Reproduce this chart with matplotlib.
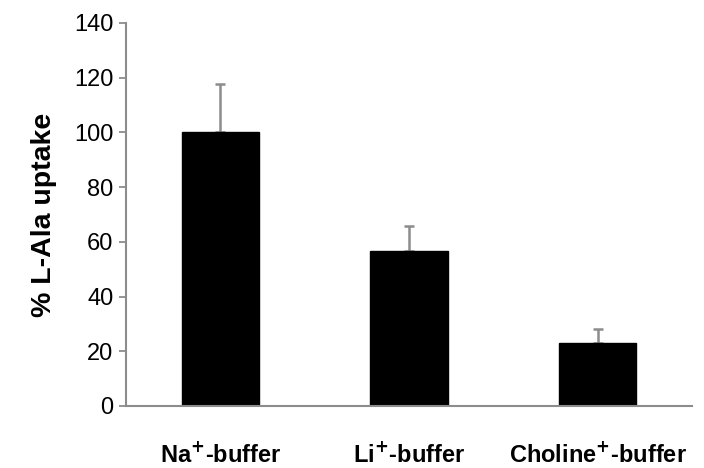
import matplotlib
matplotlib.use('Agg')
import matplotlib.pyplot as plt

plt.rcParams['font.family'] = ['Liberation Sans', 'DejaVu Sans']

categories = ['Na$^{\\mathbf{+}}$-buffer', 'Li$^{\\mathbf{+}}$-buffer', 'Choline$^{\\mathbf{+}}$-buffer']
uptake = [100, 56.5, 23]
err_up = [17.5, 9.3, 5.2]
yticks = [0, 20, 40, 60, 80, 100, 120, 140]

fig = plt.figure(figsize=(7.04, 4.68), dpi=100)
ax = fig.add_axes([0.179, 0.1325, 0.804, 0.8185])

x = range(len(categories))
ax.bar(x, uptake, width=0.41, color='black', edgecolor='black', zorder=2)
ax.errorbar(x, uptake, yerr=[[0] * len(uptake), err_up], fmt='none',
            ecolor='#8c8c8c', elinewidth=1.8, capsize=3.5, capthick=1.8, zorder=1)

ax.set_xlim(-0.5, 2.5)
ax.set_ylim(0, 140)
ax.set_yticks(yticks)
ax.set_xticks(list(x))
ax.set_xticklabels(categories, fontsize=17, fontweight='bold')
ax.tick_params(axis='x', length=0, pad=26)
ax.tick_params(axis='y', length=5, width=1.3, color='#8c8c8c', labelsize=17, pad=4)
ax.set_ylabel('% L-Ala uptake', fontsize=20.5, fontweight='bold', labelpad=12)

for side in ['top', 'right']:
    ax.spines[side].set_visible(False)
for side in ['left', 'bottom']:
    ax.spines[side].set_color('#8c8c8c')
    ax.spines[side].set_linewidth(1.5)

plt.savefig('out.png', dpi=100)
plt.close()
